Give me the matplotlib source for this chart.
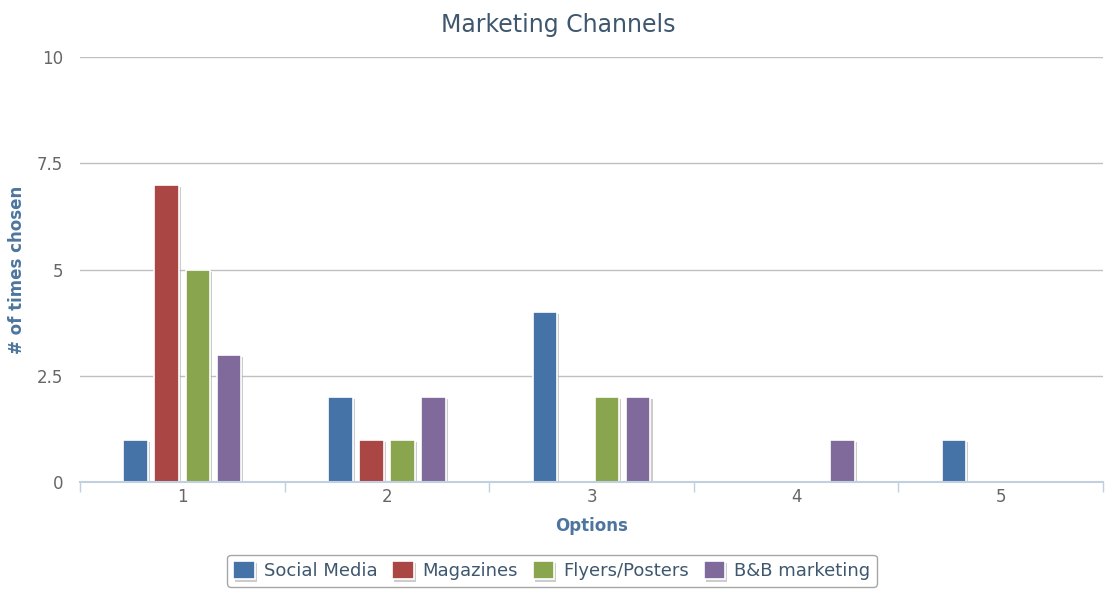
import matplotlib.pyplot as plt
import matplotlib.patheffects as pe
import numpy as np

# Survey counts per option, one list per channel
options = ['1', '2', '3', '4', '5']
social_media = [1, 2, 4, 0, 1]
magazines = [7, 1, 0, 0, 0]
flyers_posters = [5, 1, 2, 0, 0]
bnb_marketing = [3, 2, 2, 1, 0]

series = [
    ('Social Media', social_media, '#4572A7'),
    ('Magazines', magazines, '#AA4643'),
    ('Flyers/Posters', flyers_posters, '#89A54E'),
    ('B&B marketing', bnb_marketing, '#80699B'),
]

fig = plt.figure(figsize=(11.17, 5.9), dpi=100)
ax = fig.add_axes([0.0716, 0.183, 0.9159, 0.7204])

x = np.arange(len(options))
step = 0.152
width = 0.12
shadow = [pe.SimplePatchShadow(offset=(1.5, -1.5), shadow_rgbFace='#aaaaaa', alpha=0.6), pe.Normal()]
for i, (name, vals, color) in enumerate(series):
    bars = ax.bar(x + (i - 1.5) * step, vals, width, color=color, label=name,
                  edgecolor='white', linewidth=1.2, zorder=3)
    for b in bars:
        b.set_path_effects(shadow)

ax.set_xlim(-0.5, len(options) - 0.5)
ax.set_ylim(0, 10)
ax.set_yticks([0, 2.5, 5, 7.5, 10])
ax.set_yticklabels(['0', '2.5', '5', '7.5', '10'])
ax.set_xticks(x)
ax.set_xticklabels(options)
ax.set_xticks(np.arange(-0.5, len(options)), minor=True)

ax.grid(axis='y', color='#c0c0c0', linewidth=1, zorder=0)
for s in ['top', 'right', 'left']:
    ax.spines[s].set_visible(False)
ax.spines['bottom'].set_color('#c0d0e0')
ax.spines['bottom'].set_linewidth(1.5)
ax.spines['bottom'].set_zorder(4)

ax.tick_params(axis='y', length=0, pad=12, labelsize=12, labelcolor='#666666')
ax.tick_params(axis='x', which='major', length=0, pad=4, labelsize=12, labelcolor='#666666')
ax.tick_params(axis='x', which='minor', length=7, width=1, color='#c0d0e0')

ax.set_xlabel('Options', fontsize=12, fontweight='bold', color='#4d759e', labelpad=8)
ax.set_ylabel('# of times chosen', fontsize=12, fontweight='bold', color='#4d759e', labelpad=8)
fig.text(0.5, 0.958, 'Marketing Channels', fontsize=17, color='#3E576F', ha='center', va='center')

leg = fig.legend(loc='upper center', bbox_to_anchor=(0.494, 0.06), ncol=4, fontsize=13,
                 frameon=True, fancybox=True, edgecolor='#909090', handlelength=1.2,
                 handleheight=1.2, handletextpad=0.5, columnspacing=0.8, borderpad=0.35,
                 borderaxespad=0)
for t in leg.get_texts():
    t.set_color('#3E576F')

fig.savefig('out.png', dpi=100)
